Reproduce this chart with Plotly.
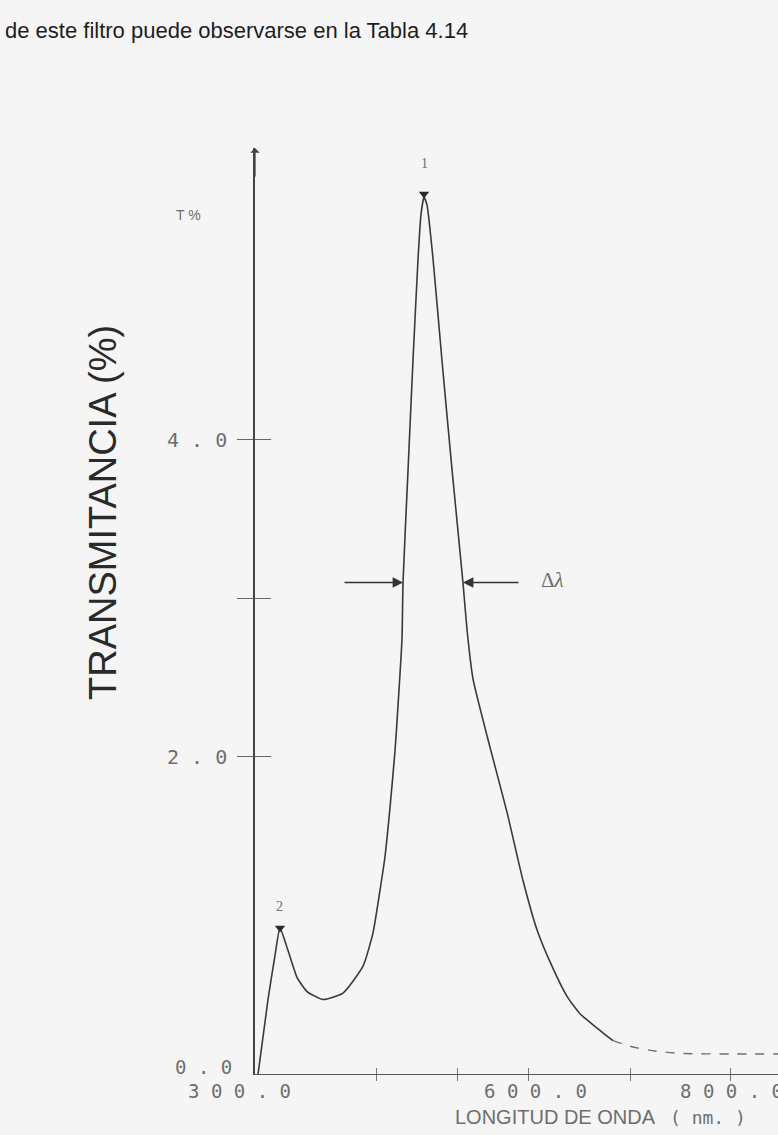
import plotly.graph_objects as go

# ---------------- data ----------------
wavelength_nm = [303.2, 313.7, 321.1, 326.3, 334.7, 344.2, 354.7, 371.6, 392.6, 413.7,
                 424.2, 431.6, 436.8, 442.1, 447.4, 450.5, 454.7, 455.8, 461.1, 466.3,
                 471.6, 474.7, 477.9, 481.1, 487.4, 496.8, 507.4, 518.9, 523.2, 529.5,
                 547.4, 565.3, 582.1, 596.8, 612.6, 628.4, 642.1, 660.0, 676.8]
transmittance = [0.00, 0.47, 0.75, 0.92, 0.78, 0.61, 0.52, 0.47, 0.51, 0.68,
                 0.89, 1.16, 1.37, 1.68, 2.04, 2.32, 2.74, 3.10, 3.81, 4.50,
                 5.14, 5.42, 5.53, 5.48, 5.14, 4.50, 3.81, 3.10, 2.80, 2.49,
                 2.06, 1.65, 1.22, 0.91, 0.68, 0.49, 0.38, 0.29, 0.21]

tail_nm = [676.8, 697.9, 721.0, 747.4, 800.0, 850.5]
tail_t = [0.21, 0.17, 0.145, 0.13, 0.126, 0.126]

peak_nm = [477.9, 326.3]
peak_t = [5.55, 0.92]
peak_labels = ["1", "2"]

fwhm_left_nm = 455.8
fwhm_right_nm = 518.9
half_level = 3.10

y_tick_vals = [0, 2, 3, 4]
y_tick_text = ["", "2 . 0", "", "4 . 0"]
y_zero_label = "0 . 0"
x_tick_vals = [428, 513, 588, 695, 800]
x_label_vals = [300, 600, 800]
x_label_text = ["3 0 0 . 0", "6 0 0 . 0", "8 0 0 . 0"]

X_RANGE = [300, 850.5]
Y_RANGE = [0, 5.84]

# ---------------- layout helpers ----------------
W, H = 778, 1135
L, R, T, B = 255, 778, 148, 1074


def px(xp):
    return (xp - L) / (R - L)


def py(yp):
    return (B - yp) / (B - T)


LINE = "#3a3a3a"
GREY = "#6e6e6e"
BG = "#f5f5f5"
MONO = "DejaVu Sans Mono, Liberation Mono, monospace"
SANS = "Liberation Sans, Arial, sans-serif"
SERIF = "Liberation Serif, DejaVu Serif, serif"

fig = go.Figure()

fig.add_trace(go.Scatter(x=wavelength_nm, y=transmittance, mode="lines",
                         line=dict(color=LINE, width=1.6, shape="spline", smoothing=0.5),
                         hoverinfo="skip", showlegend=False))
fig.add_trace(go.Scatter(x=tail_nm, y=tail_t, mode="lines",
                         line=dict(color="#707070", width=1.4, dash="dash", shape="spline", smoothing=0.5),
                         hoverinfo="skip", showlegend=False))
fig.add_trace(go.Scatter(x=peak_nm, y=peak_t, mode="markers",
                         marker=dict(symbol="triangle-down", size=9, color="#2a2a2a"),
                         cliponaxis=False, hoverinfo="skip", showlegend=False))
# overlay axes to draw the inner half of the cross-shaped ticks
fig.add_trace(go.Scatter(x=[None], y=[None], xaxis="x2", yaxis="y2",
                         showlegend=False, hoverinfo="skip"))

annotations = []
# peak labels
for xv, yv, lab, sh in zip(peak_nm, peak_t, peak_labels, [30, 22]):
    annotations.append(dict(x=xv, y=yv, xref="x", yref="y", text=lab, showarrow=False,
                            yshift=sh, xanchor="center", yanchor="middle",
                            font=dict(family=SERIF, size=14, color=GREY)))
# FWHM arrows
annotations.append(dict(x=fwhm_left_nm, y=half_level, xref="x", yref="y", ax=-60, ay=0,
                        text="", showarrow=True, arrowhead=2, arrowsize=1.3, arrowwidth=1.6,
                        arrowcolor="#333333"))
annotations.append(dict(x=fwhm_right_nm, y=half_level, xref="x", yref="y", ax=57, ay=0,
                        text="", showarrow=True, arrowhead=2, arrowsize=1.3, arrowwidth=1.6,
                        arrowcolor="#333333"))
annotations.append(dict(x=px(552), y=py(580), xref="paper", yref="paper", text="Δ<i>λ</i>",
                        xanchor="center", yanchor="middle", showarrow=False,
                        font=dict(family=SERIF, size=21, color=GREY)))
# arrow on top of y axis
annotations.append(dict(x=X_RANGE[0], y=Y_RANGE[1], xref="x", yref="y", ax=0, ay=30,
                        text="", showarrow=True, arrowhead=1, arrowsize=1.2, arrowwidth=1.3,
                        arrowcolor="#444444"))
# zero label of the y axis (sits slightly above the x axis)
annotations.append(dict(x=px(234), y=0, xref="paper", yref="y", text=y_zero_label,
                        showarrow=False, xanchor="right", yanchor="middle", yshift=7,
                        font=dict(family=MONO, size=19, color=GREY)))
# x tick labels
for xv, lab, sh in zip(x_label_vals, x_label_text, [-16, -5, 1]):
    annotations.append(dict(x=xv, y=py(1091), xref="x", yref="paper", text=lab,
                            showarrow=False, xshift=sh, xanchor="center", yanchor="middle",
                            font=dict(family=MONO, size=19, color=GREY)))
# axis titles / texts
annotations.append(dict(x=px(188), y=py(215), xref="paper", yref="paper", text="T %",
                        xanchor="center", yanchor="middle", showarrow=False,
                        font=dict(family=SANS, size=14, color=GREY)))
annotations.append(dict(x=px(103), y=py(512), xref="paper", yref="paper",
                        text="TRANSMITANCIA (%)", textangle=-90, showarrow=False,
                        xanchor="center", yanchor="middle",
                        font=dict(family=SANS, size=38, color="#2a2a2a")))
annotations.append(dict(x=px(658), y=py(1117), xref="paper", yref="paper",
                        text="LONGITUD DE ONDA", xanchor="right", yanchor="middle",
                        showarrow=False, font=dict(family=SANS, size=20, color=GREY)))
annotations.append(dict(x=px(668), y=py(1117), xref="paper", yref="paper",
                        text="( nm. )", xanchor="left", yanchor="middle", showarrow=False,
                        font=dict(family=MONO, size=18, color=GREY)))
annotations.append(dict(x=px(3), y=py(30), xref="paper", yref="paper",
                        text="de este filtro puede observarse en la Tabla 4.14",
                        xanchor="left", yanchor="middle", showarrow=False,
                        font=dict(family=SANS, size=22, color="#1e1e1e")))

fig.update_layout(
    width=W, height=H,
    margin=dict(l=L, r=W - R, t=T, b=H - B, pad=0),
    paper_bgcolor=BG, plot_bgcolor=BG,
    showlegend=False,
    xaxis=dict(range=X_RANGE, showgrid=False, zeroline=False, showline=True,
               linecolor="#555555", linewidth=1.4, ticks="outside", ticklen=6,
               tickwidth=1.2, tickcolor="#777777", tickvals=x_tick_vals,
               showticklabels=False),
    yaxis=dict(range=Y_RANGE, showgrid=False, zeroline=False, showline=True,
               linecolor="#444444", linewidth=1.5, ticks="outside", ticklen=16,
               tickwidth=1.3, tickcolor="#666666", tickvals=y_tick_vals[1:],
               ticktext=y_tick_text[1:], ticklabelstandoff=6,
               tickfont=dict(family=MONO, size=20, color=GREY)),
    xaxis2=dict(range=X_RANGE, overlaying="x", anchor="y", side="bottom",
                showgrid=False, zeroline=False, showline=False, ticks="inside",
                ticklen=6, tickwidth=1.2, tickcolor="#777777", tickvals=x_tick_vals,
                showticklabels=False),
    yaxis2=dict(range=Y_RANGE, overlaying="y", anchor="x", side="left",
                showgrid=False, zeroline=False, showline=False, ticks="inside",
                ticklen=16, tickwidth=1.3, tickcolor="#666666", tickvals=y_tick_vals[1:],
                showticklabels=False),
    annotations=annotations,
)

fig.write_html("out.html", config={"displayModeBar": False},
               post_script="document.body.style.margin='0px';"
                           "document.body.style.background='" + BG + "';")
